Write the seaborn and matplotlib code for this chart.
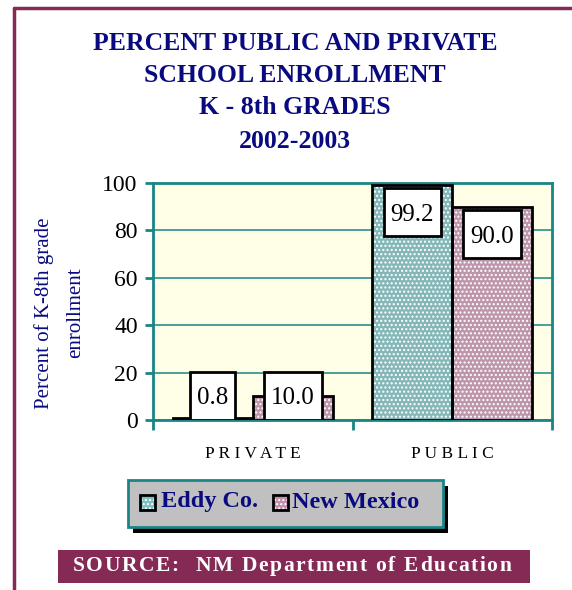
import matplotlib
matplotlib.use("Agg")
import matplotlib.pyplot as plt
from matplotlib.patches import Rectangle
import seaborn as sns
import pandas as pd

# Enrollment shares, K-8th grades, 2002-2003
categories = ["PRIVATE", "PUBLIC"]
regions = ["Eddy Co.", "New Mexico"]
eddy_values = [0.8, 99.2]
nm_values = [10.0, 90.0]
tick_labels = ["P R I V A T E", "P U B L I C"]
y_ticks = [0, 20, 40, 60, 80, 100]
title_lines = ["PERCENT PUBLIC AND PRIVATE", "SCHOOL ENROLLMENT",
               "K - 8th GRADES", "2002-2003"]
source_text = "SOURCE:  NM Department of Education"

df = pd.DataFrame({
    "category": categories * 2,
    "region": [regions[0]] * 2 + [regions[1]] * 2,
    "value": eddy_values + nm_values,
})

sns.set_theme(style="white")
plt.rcParams["font.family"] = ["Liberation Serif", "DejaVu Serif"]
plt.rcParams["hatch.linewidth"] = 1.0

NAVY = "#0a0a80"
TEAL = "#1a8585"
MAROON = "#852a55"
palette = {"Eddy Co.": "#7cc0c0", "New Mexico": "#c48fab"}

W, H = 572, 590
fig = plt.figure(figsize=(W / 100, H / 100), dpi=100)
renderer = fig.canvas.get_renderer()
ax = fig.add_axes([153 / W, 1 - 420 / H, 399 / W, 237 / H])
ax.set_facecolor("#ffffe8")

sns.barplot(data=df, x="category", y="value", hue="region", order=categories,
            hue_order=regions, palette=palette, width=0.8, ax=ax,
            legend=False, zorder=3)

# dotted fill plus a black outline on each bar
for bar in list(ax.patches):
    bar.set_hatch("....")
    bar.set_edgecolor("white")
    bar.set_linewidth(0)
    ax.add_patch(Rectangle((bar.get_x(), bar.get_y()), bar.get_width(),
                           bar.get_height(), fill=False, edgecolor="black",
                           linewidth=2, zorder=4))

ax.set_ylim(0, 100)
ax.set_xlim(-0.5, 1.5)

# value labels in white boxes
ext = ax.get_window_extent(renderer)
px_x = ext.width / 2.0      # pixels per x unit
px_y = ext.height / 100.0   # pixels per y unit
box_h = 48 / px_y
pad_x = 7 / px_x
values = {(c, r): v for c, r, v in zip(df["category"], df["region"], df["value"])}
for container, region in zip(ax.containers, regions):
    for bar, cat in zip(container, categories):
        v = values[(cat, region)]
        top = max(v - 1.4, box_h)
        cx = bar.get_x() + bar.get_width() / 2
        t = ax.text(cx, top - box_h / 2, f"{v:.1f}", ha="center",
                    va="center_baseline", fontsize=18, color="black", zorder=7)
        tw = t.get_window_extent(renderer).width / px_x
        ax.add_patch(Rectangle((cx - tw / 2 - pad_x, top - box_h),
                               tw + 2 * pad_x, box_h, facecolor="white",
                               edgecolor="black", linewidth=2, zorder=6))

ax.set_yticks(y_ticks)
ax.set_yticklabels([str(t) for t in y_ticks], fontsize=17, color="black")
ax.set_xticks([0, 1])
ax.set_xticklabels(tick_labels, fontsize=12.5, color="black")
ax.set_xticks([-0.5, 0.5, 1.5], minor=True)
ax.tick_params(axis="x", which="major", length=0, pad=19)
ax.tick_params(axis="x", which="minor", length=7, width=2, color=TEAL,
               direction="out", bottom=True)
ax.tick_params(axis="y", length=6, width=2, color=TEAL, direction="out",
               left=True, pad=5)
ax.yaxis.grid(True, color=TEAL, linewidth=1.1, zorder=1)
ax.set_axisbelow(True)
for sp in ax.spines.values():
    sp.set_color(TEAL)
    sp.set_linewidth(2)
ax.set_xlabel("")
ax.set_ylabel("")

# y-axis title, two centred lines
for line, xc in [("Percent of K-8th grade", 44), ("enrollment", 76)]:
    fig.text(xc / W, 1 - 313 / H, line, rotation=90, ha="center",
             va="center", fontsize=15, color=NAVY)

# chart title
for line, yc in zip(title_lines, [43, 75, 107, 142]):
    fig.text(295 / W, 1 - yc / H, line, ha="center", va="center",
             fontsize=18.5, fontweight="bold", color=NAVY)

# legend with drop shadow
lx0, ly0, lw, lh = 128 / W, 1 - 527 / H, 315 / W, 47 / H
fig.patches.append(Rectangle((lx0 + 5 / W, ly0 - 6 / H), lw, lh,
                             transform=fig.transFigure, facecolor="black",
                             edgecolor="none", zorder=1))
fig.patches.append(Rectangle((lx0, ly0), lw, lh, transform=fig.transFigure,
                             facecolor="#c0c0c0", edgecolor=TEAL,
                             linewidth=2, zorder=2))
for region, sx, tx in [(regions[0], 140, 161), (regions[1], 273, 292)]:
    fig.patches.append(Rectangle((sx / W, 1 - 510 / H), 15 / W, 15 / H,
                                 transform=fig.transFigure,
                                 facecolor=palette[region], edgecolor="white",
                                 linewidth=0, hatch="....", zorder=3))
    fig.patches.append(Rectangle((sx / W, 1 - 510 / H), 15 / W, 15 / H,
                                 transform=fig.transFigure, fill=False,
                                 edgecolor="black", linewidth=2, zorder=4))
    fig.text(tx / W, 1 - 502 / H, region, ha="left", va="center",
             fontsize=17.5, fontweight="bold", color=NAVY, zorder=5)

# source banner with letter-spaced text
fig.patches.append(Rectangle((58 / W, 1 - 583 / H), 472 / W, 33 / H,
                             transform=fig.transFigure, facecolor=MAROON,
                             edgecolor="none", zorder=1))
src_kw = dict(fontsize=15.5, fontweight="bold", color="white", va="center",
              ha="left", zorder=2)
widths = []
for ch in source_text:
    tmp = fig.text(0, 0, ch if ch != " " else "n", **src_kw)
    w = tmp.get_window_extent(renderer).width
    widths.append(w * (0.5 if ch == " " else 1.0))
    tmp.remove()
target_w = 438
track = (target_w - sum(widths)) / (len(source_text) - 1)
xpos = 73
for ch, w in zip(source_text, widths):
    if ch != " ":
        fig.text(xpos / W, 1 - 566 / H, ch, **src_kw)
    xpos += w + track

# outer frame lines
fig.add_artist(plt.Line2D([13.5 / W, 1], [1 - 8 / H, 1 - 8 / H],
                          transform=fig.transFigure, color=MAROON, linewidth=2.5))
fig.add_artist(plt.Line2D([13.5 / W, 13.5 / W], [0, 1 - 8 / H],
                          transform=fig.transFigure, color=MAROON, linewidth=2.5))

fig.savefig("out.png", dpi=100)
